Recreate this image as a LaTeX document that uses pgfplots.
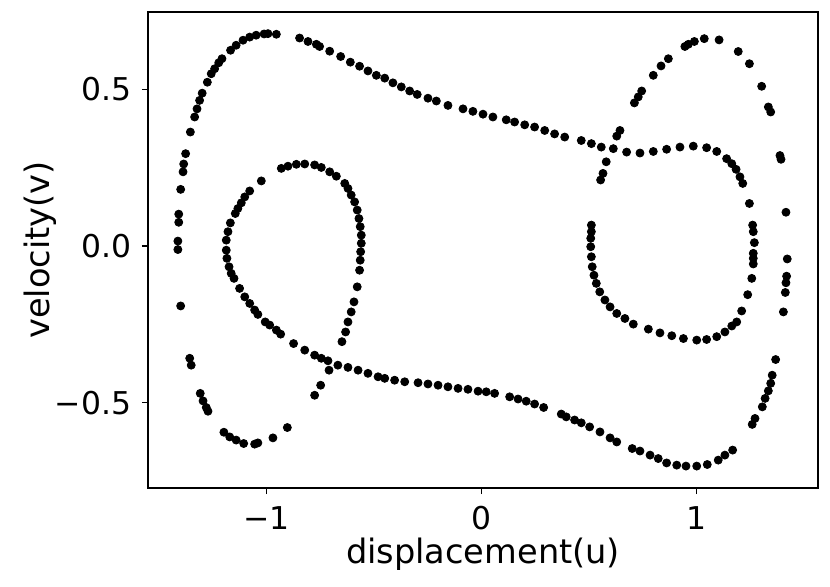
\documentclass[border=0pt]{standalone}
\usepackage{fontspec}
\setmainfont{DejaVu Sans}
\usepackage{pgfplots}
\pgfplotsset{compat=1.18}

% Poincare section points (u, v)
\begin{document}
\begin{tikzpicture}
\path[use as bounding box] (-74pt,-49pt) rectangle (341pt,244pt);
\begin{axis}[
    at={(0,0)}, anchor=south west,
    scale only axis, width=335pt, height=238pt,
    xmin=-1.550, xmax=1.566,
    ymin=-0.772, ymax=0.747,
    xtick={-1,0,1}, xticklabels={−1,0,1},
    ytick={-0.5,0,0.5}, yticklabels={−0.5,0.0,0.5},
    xtick pos=bottom, ytick pos=left,
    tick align=outside, major tick length=3pt,
    tick style={black, line width=0.6pt},
    axis line style={line width=0.6pt},
    ticklabel style={font=\fontsize{15.7}{18}\selectfont},
    xticklabel style={anchor=north, inner sep=0pt, yshift=-6pt},
    yticklabel style={anchor=east, inner sep=0pt, xshift=-5.2pt},
    label style={font=\fontsize{16.8}{20}\selectfont},
    xlabel={displacement(u)}, ylabel={velocity(v)},
    x label style={at={(axis description cs:0.5,-0.14)}, anchor=center},
    y label style={at={(axis description cs:-0.161,0.5)}, anchor=center},
]
\addplot[only marks, mark=*, mark size=2pt, black] table {
u v
-1.398 -0.191
-1.411 -0.011
-1.411 0.016
-1.407 0.076
-1.407 0.102
-1.398 0.181
-1.387 0.237
-1.384 0.262
-1.375 0.295
-1.353 0.364
-1.333 0.412
-1.322 0.438
-1.310 0.465
-1.298 0.488
-1.274 0.523
-1.256 0.550
-1.240 0.566
-1.221 0.585
-1.206 0.598
-1.166 0.625
-1.140 0.641
-1.108 0.657
-1.077 0.667
-1.047 0.673
-1.010 0.677
-0.992 0.678
-0.953 0.676
-0.845 0.664
-0.806 0.653
-0.767 0.644
-0.752 0.637
-0.705 0.622
-0.654 0.605
-0.609 0.587
-0.566 0.574
-0.527 0.559
-0.488 0.545
-0.449 0.536
-0.411 0.521
-0.372 0.508
-0.333 0.495
-0.298 0.484
-0.248 0.472
-0.209 0.463
-0.155 0.449
-0.085 0.438
-0.039 0.430
0.008 0.421
0.054 0.412
0.116 0.403
0.155 0.396
0.202 0.387
0.248 0.380
0.295 0.369
0.341 0.358
0.388 0.348
0.465 0.337
0.512 0.327
0.558 0.316
0.614 0.311
0.676 0.300
0.738 0.297
0.800 0.302
0.862 0.309
0.924 0.316
0.986 0.319
1.048 0.314
1.095 0.302
1.141 0.279
1.165 0.263
1.185 0.245
1.203 0.221
1.216 0.200
1.247 0.136
1.262 0.067
1.265 0.046
1.270 0.011
1.265 -0.023
1.265 -0.039
1.265 -0.057
1.258 -0.103
1.239 -0.155
1.211 -0.207
1.188 -0.242
1.165 -0.255
1.133 -0.274
1.095 -0.289
1.048 -0.298
1.002 -0.300
0.940 -0.295
0.886 -0.286
0.831 -0.277
0.777 -0.265
0.707 -0.249
0.668 -0.231
0.630 -0.215
0.599 -0.194
0.575 -0.172
0.551 -0.146
0.535 -0.119
0.524 -0.093
0.516 -0.066
0.512 -0.034
0.509 -0.002
0.509 0.025
0.512 0.046
0.512 0.067
0.555 0.211
0.566 0.232
0.581 0.269
0.630 0.351
0.645 0.369
0.712 0.457
0.730 0.476
0.746 0.495
0.800 0.545
0.836 0.575
0.870 0.598
0.947 0.637
0.963 0.644
0.991 0.653
1.037 0.662
1.106 0.658
1.195 0.621
1.247 0.582
1.304 0.510
1.335 0.444
1.346 0.428
1.389 0.289
1.394 0.277
1.417 0.108
1.423 -0.041
1.420 -0.096
1.417 -0.117
1.414 -0.148
1.405 -0.210
1.369 -0.362
1.353 -0.412
1.346 -0.438
1.335 -0.462
1.320 -0.486
1.307 -0.513
1.273 -0.550
1.260 -0.569
1.169 -0.651
1.133 -0.667
1.102 -0.683
1.051 -0.697
1.002 -0.702
0.952 -0.702
0.909 -0.699
0.862 -0.692
0.823 -0.678
0.785 -0.667
0.738 -0.654
0.702 -0.646
0.630 -0.625
0.599 -0.612
0.552 -0.593
0.504 -0.577
0.465 -0.564
0.434 -0.555
0.395 -0.545
0.372 -0.536
0.290 -0.515
0.248 -0.504
0.209 -0.495
0.171 -0.488
0.132 -0.481
0.062 -0.470
0.023 -0.465
-0.015 -0.463
-0.062 -0.457
-0.108 -0.454
-0.155 -0.449
-0.201 -0.444
-0.248 -0.440
-0.294 -0.436
-0.356 -0.433
-0.403 -0.428
-0.449 -0.422
-0.480 -0.417
-0.527 -0.406
-0.573 -0.396
-0.620 -0.387
-0.667 -0.380
-0.713 -0.366
-0.744 -0.358
-0.775 -0.348
-0.821 -0.332
-0.873 -0.311
-0.933 -0.281
-0.953 -0.268
-0.984 -0.252
-1.005 -0.242
-1.039 -0.218
-1.054 -0.204
-1.077 -0.183
-1.100 -0.162
-1.124 -0.135
-1.150 -0.103
-1.163 -0.087
-1.173 -0.066
-1.183 -0.039
-1.186 -0.013
-1.186 0.019
-1.178 0.046
-1.167 0.074
-1.144 0.104
-1.132 0.120
-1.116 0.138
-1.100 0.157
-1.077 0.176
-1.023 0.208
-0.930 0.248
-0.899 0.255
-0.860 0.261
-0.821 0.262
-0.775 0.259
-0.744 0.251
-0.705 0.237
-0.674 0.223
-0.635 0.200
-0.620 0.184
-0.605 0.163
-0.589 0.141
-0.577 0.115
-0.569 0.088
-0.563 0.062
-0.558 0.035
-0.558 0.009
-0.561 -0.018
-0.563 -0.045
-0.566 -0.077
-0.577 -0.130
-0.592 -0.178
-0.605 -0.210
-0.620 -0.242
-0.631 -0.274
-0.648 -0.305
-0.708 -0.396
-0.747 -0.444
-0.775 -0.476
-0.902 -0.579
-0.969 -0.612
-1.039 -0.628
-1.054 -0.632
-1.105 -0.630
-1.140 -0.619
-1.170 -0.609
-1.197 -0.594
-1.271 -0.527
-1.279 -0.515
-1.294 -0.494
-1.307 -0.470
-1.349 -0.380
-1.356 -0.358
};
\end{axis}
\end{tikzpicture}
\end{document}
